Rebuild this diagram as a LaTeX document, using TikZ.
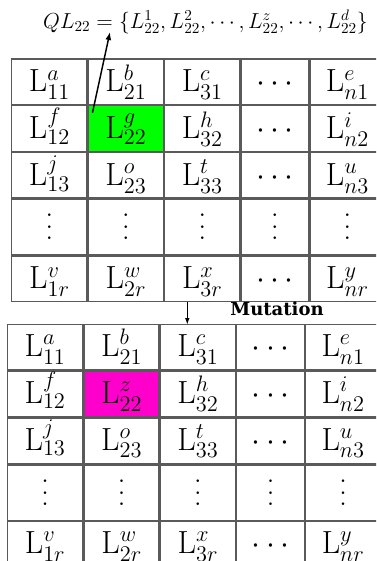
\RequirePackage{fix-cm}
\documentclass[tikz,border=0pt]{standalone}
\usepackage{fontspec}
\usetikzlibrary{arrows.meta,matrix,calc}
\newfontfamily\mutfont{DejaVu Serif}
\definecolor{gridGray}{HTML}{5A5A5A}
\definecolor{pickGreen}{HTML}{00FF00}
\definecolor{mutPink}{HTML}{FF00CC}
\newcommand{\Lc}[2]{\mathrm{L}^{#1}_{#2}}
\newcommand{\vdotsL}{\vcenter{\baselineskip=0.36em\lineskiplimit=-1em\hbox{.}\hbox{.}\hbox{.}}}

\begin{document}
\begin{tikzpicture}[
  x=0.75pt,y=-0.75pt,
  every node/.style={inner sep=0pt,outer sep=0pt},
  tab/.style={matrix of math nodes,inner sep=0pt,column sep=0pt,row sep=0pt,
    nodes={draw=gridGray,line width=1pt,anchor=center,minimum width=56.25pt,minimum height=34.1pt,
      text height=24.5pt,text depth=9.2pt,font=\fontsize{24}{26}\selectfont},
    column 1/.style={nodes={minimum width=56.6pt}},
    column 4/.style={nodes={minimum width=50.6pt}},
    row 4/.style={nodes={minimum height=41.5pt,text height=26.75pt,text depth=14.75pt}}},
  arrow/.style={-{Latex[length=6pt,width=4.5pt]},line width=1.1pt},
  smallarrow/.style={-{Latex[length=5pt,width=3.5pt]},line width=0.8pt}
]
\useasboundingbox (0,0) rectangle (376,561);
\clip (0,0) rectangle (376,561);

% Kopfzeile: Menge der Kandidaten
\node (ql) at (205.5,22) {\fontsize{16.3}{18}\selectfont
  $QL_{22} = \{L^{1}_{22}, L^{2}_{22}, \cdots, L^{z}_{22}, \cdots, L^{d}_{22}\}$};

% Tabelle vor der Mutation
\matrix (top) [tab,anchor=north west] at (11,58.3) {
  \Lc{a}{11} & \Lc{b}{21} & \Lc{c}{31} & \cdots & \Lc{e}{n1} \\
  \Lc{f}{12} & |[fill=pickGreen]| \Lc{g}{22} & \Lc{h}{32} & \cdots & \Lc{i}{n2} \\
  \Lc{j}{13} & \Lc{o}{23} & \Lc{t}{33} & \cdots & \Lc{u}{n3} \\
  \vdotsL & \vdotsL & \vdotsL & \vdotsL & \vdotsL \\
  \Lc{v}{1r} & \Lc{w}{2r} & \Lc{x}{3r} & \cdots & \Lc{y}{nr} \\
};

% Tabelle nach der Mutation
\matrix (bot) [tab,anchor=north west,nodes={text height=23.6pt,text depth=10.1pt}] at (6.7,324) {
  \Lc{a}{11} & \Lc{b}{21} & \Lc{c}{31} & \cdots & \Lc{e}{n1} \\
  \Lc{f}{12} & |[fill=mutPink]| \Lc{z}{22} & \Lc{h}{32} & \cdots & \Lc{i}{n2} \\
  \Lc{j}{13} & \Lc{o}{23} & \Lc{t}{33} & \cdots & \Lc{u}{n3} \\
  \vdotsL & \vdotsL & \vdotsL & \vdotsL & \vdotsL \\
  \Lc{v}{1r} & \Lc{w}{2r} & \Lc{x}{3r} & \cdots & \Lc{y}{nr} \\
};

\node[font=\mutfont\bfseries\fontsize{13.5}{15}\selectfont] (mut) at (277,309) {Mutation};

% Pfeile
\coordinate (eqfoot) at (110,32);
\draw[arrow] ($(top-2-2.north west)+(4,7)$) -- (eqfoot);
\coordinate (mutfrom) at ($(top-5-3.south west)!0.3!(top-5-3.south east)$);
\draw[smallarrow] (mutfrom) -- (mutfrom |- bot-1-3.north);
\end{tikzpicture}
\end{document}
